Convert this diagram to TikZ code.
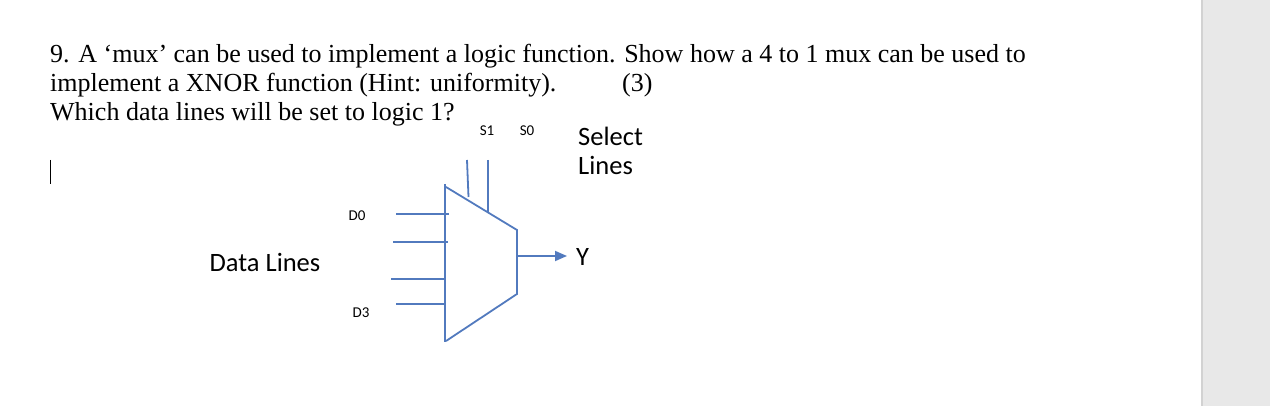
\documentclass[tikz,border=0pt]{standalone}
\usepackage{fontspec}
\usetikzlibrary{arrows.meta}
\setmainfont{Liberation Serif}
\newfontfamily\carl{Carlito}
\definecolor{wirec}{RGB}{82,122,190}
\begin{document}
\begin{tikzpicture}[x=1pt,y=-1pt,
  wire/.style={draw=wirec, line width=1.8pt},
  q/.style={anchor=base west, inner sep=0pt, font=\fontsize{26}{26}\selectfont},
  lab/.style={inner sep=0pt, font=\carl\fontsize{26.5}{29}\selectfont},
  sm/.style={inner sep=0pt, font=\carl\fontsize{15}{15}\selectfont}]
\useasboundingbox (0,0) rectangle (1270,406);
\fill[gray!18] (1201,0) rectangle (1270,406);
\fill[gray!35] (1201,0) rectangle (1203,406);
\node[q] (l1) at (50,63) {9. A `mux' can be used to implement a logic function. Show how a 4 to 1 mux can be used to};
\node[q] (l2) at (50,92) {implement a XNOR function (Hint: uniformity).};
\node[q] (l2b) at (622,92) {(3)};
\node[q] (l3) at (50,121) {Which data lines will be set to logic 1?};
\draw[line width=1pt] (50,160) -- (50,184);
\coordinate (a) at (445,184);
\coordinate (b) at (445,342);
\coordinate (c) at (517,230);
\coordinate (d) at (517,294);
\draw[wire] (a) -- (b);
\draw[wire] (446,187) -- (c) -- (d) -- (446,341);
\draw[wire] (396,214) -- (449,214);
\draw[wire] (393,242) -- (448,242);
\draw[wire] (391,279) -- (446,279);
\draw[wire] (396,304) -- (446,304);
\draw[wire] (467,160) -- (468.5,197);
\draw[wire] (488,160) -- (488,213);
\coordinate (o) at (517,256);
\coordinate (oe) at (567,256);
\draw[wire,-{Triangle[length=12pt,width=10pt]},fill=wirec] (o) -- (oe);
\node[lab, anchor=west] (y) at (576,257) {Y};
\node[sm] (s1) at (487,131) {S1};
\node[sm] (s0) at (527,131) {S0};
\node[sm] (d0) at (357,216) {D0};
\node[sm] (d3) at (361,313) {D3};
\node[lab] (dl) at (265,262) {Data Lines};
\node[lab, anchor=north west, align=left] (sl) at (578,127) {Select\\Lines};
\end{tikzpicture}
\end{document}
